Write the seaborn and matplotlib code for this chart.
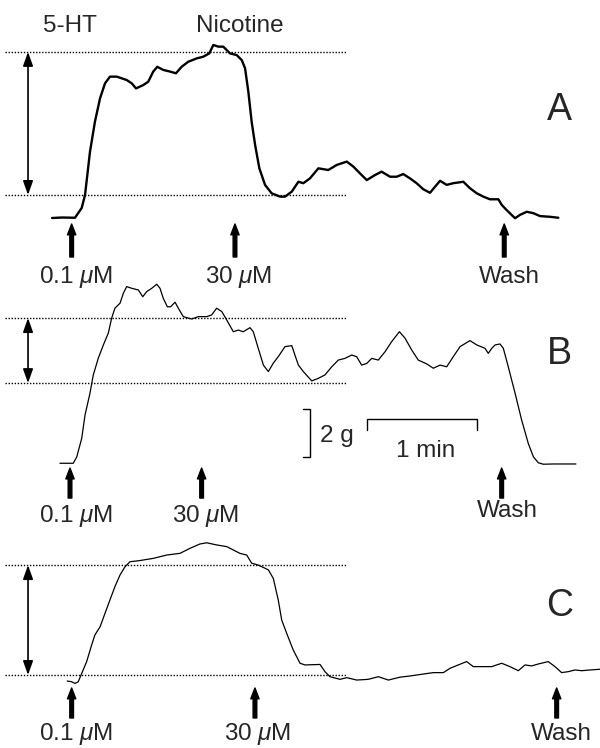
import matplotlib
matplotlib.use("Agg")
import matplotlib.pyplot as plt
import pandas as pd
import seaborn as sns

# ---------------- data (time in s after 5-HT, tension in g above resting level) -------------
a_time = [-9.8, -4.4, 2.7, 6.4, 8.2, 10.9, 13.6, 16.4, 19.1, 21.8, 25.5, 30.9, 33.7, 36.0, 40.0,
          42.7, 45.4, 47.6, 50.9, 54.6, 57.8, 60.9, 64.5, 69.1, 72.7, 76.0, 78.2, 80.9, 83.6,
          87.3, 90.9, 93.7, 95.5, 97.3, 99.1, 101.0, 103.3, 106.4, 110.0, 114.6, 117.3, 121.0,
          124.6, 127.3, 130.9, 135.5, 140.9, 145.5, 151.0, 154.6, 158.2, 161.9, 166.4, 170.0,
          174.6, 178.2, 181.8, 185.5, 189.1, 192.7, 196.4, 199.1, 201.9, 205.5, 209.1, 214.6,
          218.2, 221.9, 225.5, 229.1, 233.7, 235.6, 238.2, 242.8, 245.5, 249.2, 252.8, 256.4,
          261.9, 266.4]
a_tension = [0.0, 0.02, 0.01, 0.42, 0.96, 2.76, 4.01, 4.99, 5.61, 5.89, 5.89, 5.75, 5.61, 5.40,
             5.54, 5.68, 6.10, 6.30, 6.17, 6.10, 6.03, 6.30, 6.51, 6.65, 6.72, 6.86, 7.21, 7.14,
             7.14, 6.86, 6.79, 6.58, 6.24, 5.26, 4.01, 3.04, 2.07, 1.38, 1.03, 0.89, 0.89, 1.10,
             1.51, 1.45, 1.65, 2.07, 2.00, 2.21, 2.35, 2.14, 1.86, 1.58, 1.79, 1.93, 1.72, 1.72,
             1.83, 1.65, 1.45, 1.20, 1.05, 1.30, 1.55, 1.38, 1.45, 1.51, 1.24, 1.03, 0.89, 0.78,
             0.78, 0.54, 0.33, -0.01, 0.13, 0.26, 0.20, 0.08, 0.05, 0.01]

b_time = [-5.5, 1.8, 3.7, 6.4, 8.2, 10.9, 12.7, 15.4, 18.2, 20.9, 22.7, 24.5, 27.3, 29.1, 30.9,
          33.7, 37.3, 39.7, 41.8, 44.6, 47.3, 49.1, 50.9, 53.1, 54.9, 57.3, 59.1, 61.8, 66.4,
          70.0, 74.6, 77.3, 80.0, 82.8, 85.5, 89.1, 91.8, 94.5, 98.2, 100.0, 102.7, 105.5,
          108.2, 110.9, 113.6, 117.3, 121.0, 122.7, 124.6, 127.3, 131.9, 135.5, 139.1, 142.8,
          146.4, 150.0, 153.7, 156.4, 159.1, 161.9, 164.6, 168.2, 171.9, 175.5, 179.7, 182.8,
          186.4, 190.0, 194.6, 198.2, 201.9, 205.5, 209.1, 212.8, 218.2, 221.9, 226.4, 228.2,
          230.1, 231.9, 234.6, 236.4, 239.1, 242.8, 246.4, 250.0, 252.8, 255.5, 258.2, 263.7,
          269.1, 276.0]
b_tension = [0.01, 0.01, 0.28, 1.05, 2.02, 2.93, 3.69, 4.38, 4.94, 5.43, 6.05, 6.47, 6.68, 7.09,
             7.37, 7.30, 7.23, 6.95, 7.16, 7.30, 7.47, 7.30, 6.88, 6.53, 6.53, 6.72, 6.47, 6.12,
             6.02, 6.12, 6.12, 6.19, 6.47, 6.33, 5.98, 5.49, 5.56, 5.49, 5.66, 5.49, 4.80, 4.10,
             3.83, 4.18, 4.45, 4.87, 4.91, 4.52, 4.10, 3.83, 3.44, 3.55, 3.69, 4.03, 4.31, 4.38,
             4.52, 4.45, 4.10, 4.17, 4.38, 4.31, 4.66, 5.08, 5.49, 5.22, 4.73, 4.31, 4.15, 3.97,
             4.10, 4.03, 4.45, 4.87, 5.12, 4.94, 4.80, 4.59, 4.80, 4.94, 4.98, 4.80, 4.03, 2.93,
             1.81, 0.84, 0.28, 0.03, -0.03, -0.02, -0.02, -0.02]

c_time = [-1.5, 0.9, 2.7, 4.5, 6.4, 9.1, 11.8, 13.6, 16.4, 19.1, 21.8, 24.5, 27.3, 30.0, 32.7,
          38.2, 45.4, 52.8, 60.0, 65.5, 70.9, 74.6, 80.0, 85.5, 89.1, 92.7, 96.4, 99.1, 102.7,
          106.4, 108.2, 110.9, 113.6, 115.5, 118.2, 121.8, 125.5, 128.2, 136.4, 139.1, 141.8,
          147.3, 151.0, 156.4, 162.7, 168.2, 173.7, 180.0, 185.5, 192.7, 198.2, 203.7, 207.3,
          211.8, 216.4, 220.0, 223.7, 230.1, 235.5, 240.0, 244.6, 248.2, 251.9, 255.5, 260.9,
          264.6, 268.2, 271.8, 275.5, 279.2, 283.7, 289.1]
c_tension = [0.02, -0.01, -0.08, -0.01, 0.34, 0.83, 1.52, 1.94, 2.28, 2.84, 3.40, 3.95, 4.44,
             4.78, 4.99, 5.04, 5.13, 5.27, 5.34, 5.55, 5.73, 5.78, 5.69, 5.62, 5.48, 5.34, 5.27,
             4.93, 4.85, 4.72, 4.65, 4.30, 3.40, 2.56, 2.01, 1.31, 0.76, 0.69, 0.71, 0.41, 0.20,
             0.09, 0.16, 0.06, 0.09, 0.20, 0.06, 0.18, 0.23, 0.31, 0.37, 0.37, 0.55, 0.69, 0.83,
             0.62, 0.62, 0.62, 0.76, 0.62, 0.45, 0.69, 0.65, 0.73, 0.83, 0.62, 0.37, 0.41, 0.48,
             0.45, 0.48, 0.51]

# event arrows (s) and labels
a_events = [0.9, 90.0, 236.9]
b_events = [0.0, 71.8, 235.5]
c_events = [0.9, 100.9, 265.5]
event_labels = ["0.1 $\\mu$M", "30 $\\mu$M", "Wash"]
a_label_t = [3.5, 92.2, 239.5]
b_label_t = [3.3, 74.2, 238.4]
c_label_t = [3.3, 102.6, 267.9]

# reference levels (dotted lines) in g
a_ref = [0.96, 6.92]
b_ref = [3.35, 6.06]
c_ref = [0.27, 4.85]

panel_names = ["A", "B", "C"]
scale_g = 2
scale_s = 60

# ---------------- style ----------------
sns.set_style("white")
plt.rcParams["font.family"] = ["Liberation Sans", "DejaVu Sans"]
plt.rcParams["mathtext.fontset"] = "custom"
plt.rcParams["mathtext.rm"] = "Liberation Sans"
plt.rcParams["mathtext.it"] = "Liberation Sans:italic"

W, H = 600, 748
PX_S = 1.833   # px per second
PX_G = 24.0    # px per gram
T0 = 70.0      # px of t = 0
FS = 17.5

fig = plt.figure(figsize=(W / 100, H / 100), dpi=100)


def make_ax(top, bottom, base):
    ax = fig.add_axes([0, 1 - bottom / H, 1, (bottom - top) / H])
    ax.set_xlim(-T0 / PX_S, (W - T0) / PX_S)
    ax.set_ylim((base - bottom) / PX_G, (base - top) / PX_G)
    ax.axis("off")
    return ax


axA = make_ax(0, 258, 218)
axB = make_ax(258, 528, 463.5)
axC = make_ax(528, 748, 681.5)

ref_t0, ref_t1 = -35.5, 151.1
dbl_t = -22.9

panels = [
    (axA, a_time, a_tension, a_ref, a_events, a_label_t, 1.7, (-0.25, -1.625), -2.71, 4.5),
    (axB, b_time, b_tension, b_ref, b_events, b_label_t, 0.9, (-0.19, -1.44), -2.44, 4.56),
    (axC, c_time, c_tension, c_ref, c_events, c_label_t, 0.9, (-0.27, -1.52), -2.44, 3.15),
]

for i, (ax, t, g, ref, ev, lt, lw, (tip, tail), lab_y, let_y) in enumerate(panels):
    df = pd.DataFrame({"t": t, "g": g})
    sns.lineplot(data=df, x="t", y="g", ax=ax, color="black", lw=lw,
                 estimator=None, sort=False)
    ax.set_xlabel("")
    ax.set_ylabel("")
    ax.hlines(ref, ref_t0, ref_t1, colors="black", lw=1.0, linestyles=(0, (1, 1.2)))
    ax.annotate("", xy=(dbl_t, ref[1]), xytext=(dbl_t, ref[0]),
                arrowprops=dict(arrowstyle="<|-|>,head_length=0.7,head_width=0.25",
                                lw=1.2, color="black", shrinkA=0, shrinkB=0,
                                mutation_scale=12))
    for e in ev:
        ax.annotate("", xy=(e, tip), xytext=(e, tail), annotation_clip=False,
                    arrowprops=dict(arrowstyle="simple,head_length=0.65,head_width=0.5,tail_width=0.22",
                                    fc="black", ec="black", shrinkA=0, shrinkB=0,
                                    mutation_scale=12))
    wash_y = lab_y + (0.2 if i == 1 else 0.0)
    for j, (x, lab) in enumerate(zip(lt, event_labels)):
        y = wash_y if j == 2 else lab_y
        ax.text(x, y, lab, ha="center", va="baseline", fontsize=FS, clip_on=False)
    ax.text(267.0, let_y, panel_names[i], ha="center", va="center", fontsize=27)

# top labels for panel A
axA.text(0.0, 8.0, "5-HT", ha="center", va="center", fontsize=FS)
axA.text(92.7, 8.0, "Nicotine", ha="center", va="center", fontsize=FS)

# scale bars in panel B
sb_x = 130.9
sb_y0 = 0.28
axB.plot([sb_x - 3.8, sb_x, sb_x, sb_x - 3.8], [sb_y0 + scale_g, sb_y0 + scale_g, sb_y0, sb_y0],
         color="black", lw=1.0, solid_joinstyle="miter")
axB.text(136.4, 0.90, f"{scale_g} g", ha="left", va="baseline", fontsize=FS)
tb_x0 = 161.9
tb_y = 1.854
axB.plot([tb_x0, tb_x0, tb_x0 + scale_s, tb_x0 + scale_s], [tb_y - 0.46, tb_y, tb_y, tb_y - 0.46],
         color="black", lw=1.0, solid_joinstyle="miter")
axB.text(194.1, 0.28, "1 min", ha="center", va="baseline", fontsize=FS)

fig.savefig("out.png", dpi=100)
